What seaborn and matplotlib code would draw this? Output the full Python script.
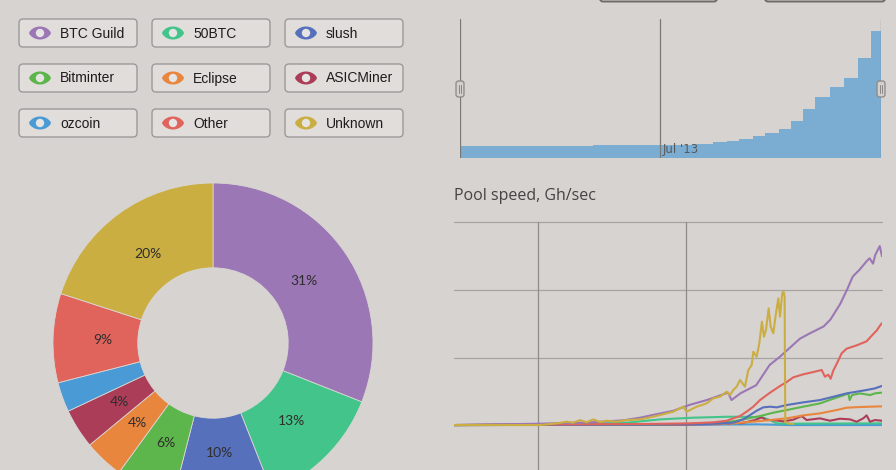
import numpy as np
import pandas as pd
import matplotlib
matplotlib.use('Agg')
import matplotlib.pyplot as plt
import seaborn as sns
from matplotlib.patches import FancyBboxPatch, Polygon, Circle

# --- данные ---
pools = ['BTC Guild', '50BTC', 'slush', 'Bitminter', 'Eclipse',
         'ASICMiner', 'ozcoin', 'Other', 'Unknown']
pool_colors = ['#9b77b5', '#42c48a', '#5670bc', '#5db64b', '#e8863e',
               '#ab3d58', '#4a9bd5', '#e0635c', '#cbae42']
pie_share = [31, 13, 10, 6, 4, 4, 3, 9, 20]

# скорость пулов (дни от начала периода, тыс. Gh/sec)
btcguild_day = [0, 77, 121, 151, 166, 180, 195, 210, 225, 237, 244, 247, 255, 269, 281,
                290, 302, 308, 317, 329, 335, 344, 350, 355, 361, 367, 370, 373, 375, 379, 381]
btcguild_speed = [0, 2, 4, 7, 11, 16, 21, 30, 37, 44, 48, 37, 47, 59, 89,
                  101, 119, 128, 136, 146, 156, 180, 201, 220, 230, 242, 247, 239, 252, 265, 250]

unknown_day = [0, 76.6, 91.4, 100.3, 106.2, 112.2, 118.1, 124.0, 130.0, 135.9, 144.8, 153.7,
               165.6, 174.5, 183.4, 195.2, 204.1, 207.1, 216.0, 224.9, 230.8, 236.8, 242.7,
               245.7, 248.6, 251.6, 254.6, 259.0, 262.0, 265.0, 266.4, 269.4, 271.8, 274.1,
               275.9, 277.7, 280.1, 281.9, 284.2, 286.6, 288.7, 290.2, 292.2, 293.4, 294.3,
               294.9, 297.6, 302.0]
unknown_speed = [0, 0, 2.5, 4.9, 3.5, 7.4, 4.0, 8.4, 4.4, 6.4, 4.9, 7.4,
                 8.4, 11.4, 14.8, 19.8, 27.2, 19.8, 27.2, 32.1, 39.5, 42.0, 49.4,
                 44.4, 51.9, 56.8, 66.7, 56.8, 81.5, 88.9, 108.6, 101.2, 121.0, 153.1,
                 130.9, 140.7, 172.8, 145.7, 135.8, 165.4, 187.7, 160.5, 195.1, 197.5, 190.1,
                 4.9, 2.5, 1.5]

other_day = [0, 106.2, 165.6, 210.1, 230.8, 242.7, 248.6, 254.6, 260.5, 266.4, 272.4, 281.3,
             290.2, 296.1, 302.0, 310.9, 319.8, 327.3, 330.2, 333.2, 335.3, 337.6, 340.6,
             345.1, 349.5, 358.4, 367.3, 373.2, 376.2, 378.6, 380.7]
other_speed = [0, 1.0, 1.5, 2.5, 4.0, 6.4, 9.9, 13.3, 19.8, 27.2, 37.0, 47.9,
               57.8, 63.7, 70.6, 75.1, 78.5, 81.5, 71.6, 74.6, 68.6, 80.5, 90.4,
               106.2, 113.1, 118.0, 124.0, 134.8, 139.8, 145.7, 150.6]

slush_day = [0, 165.6, 224.9, 248.6, 257.5, 263.5, 269.4, 275.3, 281.3, 287.2, 296.1,
             310.9, 325.8, 337.6, 349.5, 358.4, 367.3, 374.7, 380.7]
slush_speed = [0, 0.5, 1.5, 3.5, 8.4, 14.8, 21.2, 26.2, 27.2, 26.2, 29.6,
               33.6, 37.0, 41.9, 46.9, 49.4, 51.9, 54.3, 57.8]

bitminter_day = [0, 165.6, 224.9, 248.6, 260.5, 272.4, 284.2, 296.1, 310.9, 325.8, 337.6,
                 346.5, 351.0, 352.2, 354.3, 361.4, 370.3, 374.7, 380.7]
bitminter_speed = [0, 0.5, 2.0, 5.4, 9.4, 13.3, 18.3, 22.2, 27.2, 32.1, 39.0,
                   43.9, 46.9, 37.0, 44.4, 46.9, 44.4, 46.9, 48.0]

btc50_day = [0, 106.2, 153.7, 171.5, 183.4, 195.2, 213.0, 224.9, 242.7, 254.6, 266.4,
             275.3, 281.3, 287.2, 293.1, 380.7]
btc50_speed = [0, 1.0, 3.5, 6.4, 8.4, 9.4, 10.9, 11.4, 12.3, 12.3, 11.9,
               10.9, 7.4, 2.5, 2.0, 2.5]

eclipse_day = [0, 195.2, 248.6, 272.4, 296.1, 310.9, 325.8, 340.6, 349.5, 361.4, 380.7]
eclipse_speed = [0, 1.0, 2.5, 5.9, 9.9, 14.3, 17.3, 22.2, 25.7, 26.7, 27.7]

asic_day = [0, 195.2, 236.8, 241.2, 244.2, 248.6, 254.6, 260.5, 267.9, 273.8, 278.3, 284.2,
            293.1, 302.0, 309.5, 313.9, 325.8, 334.7, 343.6, 352.5, 358.4, 364.3, 367.3,
            370.3, 374.7, 380.7]
asic_speed = [0, 0.5, 1.5, 4.4, 1.5, 5.4, 2.5, 4.4, 7.4, 11.4, 7.4, 7.4,
              5.4, 7.9, 13.3, 7.4, 9.9, 6.4, 9.4, 8.4, 4.9, 9.9, 14.3,
              4.9, 7.4, 6.4]

ozcoin_day = [0, 200, 270, 300, 380.7]
ozcoin_speed = [0, 0.5, 1.0, 0, 0]

# навигатор (общая скорость сети, ступенчато)
nav_day = [0, 30, 60, 90, 120, 150, 181.1, 211.3, 229.4, 241.5, 252.7, 264.8, 276.2,
           288.9, 299.8, 310.0, 321.5, 334.5, 347.8, 360.2, 372.2, 381]
nav_value = [35, 35, 36, 37, 38, 39, 40, 43, 47, 52, 58, 66, 76,
             88, 111, 148, 183, 213, 242, 302, 383, 383]
nav_tick_day = 181.1
nav_tick_label = "Jul '13"

speed_grid = [100, 200, 300]
day_grid = [74.8, 206.5]

series = {
    'BTC Guild': (btcguild_day, btcguild_speed),
    '50BTC': (btc50_day, btc50_speed),
    'slush': (slush_day, slush_speed),
    'Bitminter': (bitminter_day, bitminter_speed),
    'Eclipse': (eclipse_day, eclipse_speed),
    'ASICMiner': (asic_day, asic_speed),
    'ozcoin': (ozcoin_day, ozcoin_speed),
    'Other': (other_day, other_speed),
    'Unknown': (unknown_day, unknown_speed),
}
df = pd.concat([pd.DataFrame({'day': d, 'speed': v, 'pool': name})
                for name, (d, v) in series.items()], ignore_index=True)
palette = dict(zip(pools, pool_colors))
draw_order = ['ozcoin', '50BTC', 'ASICMiner', 'Eclipse', 'Bitminter',
              'slush', 'Other', 'BTC Guild', 'Unknown']

# --- оформление ---
BG = '#d7d3d0'
W, H = 896, 470
sns.set_theme(style='white', rc={'figure.facecolor': BG, 'axes.facecolor': 'none',
                                 'savefig.facecolor': BG})
plt.rcParams['font.family'] = ['Open Sans', 'DejaVu Sans']


def px_box(x0, y0, w, h):
    return [x0 / W, 1 - (y0 + h) / H, w / W, h / H]


fig = plt.figure(figsize=(W / 100, H / 100), dpi=100)

# основной график
ax = fig.add_axes(px_box(454, 222, 428, 278))
sns.lineplot(data=df, x='day', y='speed', hue='pool', hue_order=draw_order,
             palette=palette, estimator=None, linewidth=1.5, legend=False, ax=ax)
ax.set_xlim(0, 381)
ax.set_ylim(-111, 300.7)
for v in speed_grid:
    ax.axhline(v, color='#a6a3a0', lw=0.9, zorder=0, clip_on=False)
for d in day_grid:
    ax.axvline(d, color='#8e8b88', lw=0.9, zorder=0)
ax.set_xticks([])
ax.set_yticks([])
ax.set_xlabel('')
ax.set_ylabel('')
sns.despine(ax=ax, left=True, bottom=True, top=True, right=True)

# навигатор
ax2 = fig.add_axes(px_box(460, 19, 421, 139))
ax2.fill_between(nav_day, nav_value, step='post', color='#7badd3', lw=0)
ax2.set_xlim(0, 381)
ax2.set_ylim(0, 418)
for d in [0, nav_tick_day, 381]:
    ax2.axvline(d, color='#7a7876', lw=0.9)
ax2.text(nav_tick_day + 2.5, 6, nav_tick_label, fontsize=8.5, color='#5a5856',
         ha='left', va='bottom', family=['DejaVu Sans'])
ax2.set_xticks([])
ax2.set_yticks([])
sns.despine(ax=ax2, left=True, bottom=True, top=True, right=True)

# кольцевая диаграмма
ax3 = fig.add_axes(px_box(53, 183, 320, 320))
ax3.pie(pie_share, colors=pool_colors, startangle=90, counterclock=False, radius=1,
        wedgeprops=dict(width=0.53, edgecolor='#dad6d3', linewidth=0.6),
        autopct=lambda p: f'{p:.0f}%' if p >= 3.5 else '', pctdistance=0.69,
        textprops=dict(fontsize=10, color='#2f2d2c', family=['Lato', 'DejaVu Sans']))
ax3.set_xlim(-1, 1)
ax3.set_ylim(-1, 1)
ax3.set_aspect('equal')
ax3.axis('off')

# кнопки-легенда и элементы интерфейса
ov = fig.add_axes([0, 0, 1, 1], zorder=10)
ov.set_xlim(0, W)
ov.set_ylim(H, 0)
ov.axis('off')

t = np.linspace(-1, 1, 41)
for i, (name, col) in enumerate(zip(pools, pool_colors)):
    r, c = divmod(i, 3)
    x0, y0 = 19 + c * 133, 19 + r * 45
    ov.add_patch(FancyBboxPatch((x0, y0), 118, 28, boxstyle='round,pad=0,rounding_size=4',
                                fc='#e0dddb', ec='#9c9a98', lw=1))
    cx, cy = x0 + 21, y0 + 14
    bulge = 6.5 * (1 - t ** 2) ** 0.7
    pts = np.concatenate([np.column_stack([cx + 11 * t, cy - bulge]),
                          np.column_stack([cx + 11 * t[::-1], cy + bulge[::-1]])])
    ov.add_patch(Polygon(pts, closed=True, fc=col, ec='none'))
    ov.add_patch(Circle((cx, cy), 4.2, fc='#e6e3e3', ec='none'))
    ov.text(x0 + 41, cy + 0.5, name, fontsize=10, color='#1e1d1c', va='center', ha='left',
            family=['Liberation Sans', 'DejaVu Sans'])

# ручки навигатора
for hx in [460, 881]:
    ov.add_patch(FancyBboxPatch((hx - 4, 81), 8, 16, boxstyle='round,pad=0,rounding_size=2.5',
                                fc='#d2cfcc', ec='#8a8886', lw=0.9))
    for dx in (-1.2, 1.2):
        ov.plot([hx + dx, hx + dx], [85, 93], color='#8a8886', lw=0.7)

# верхние кнопки (обрезаны)
for bx, bw in [(600, 117), (765, 120)]:
    ov.add_patch(FancyBboxPatch((bx, -30), bw, 31.5, boxstyle='round,pad=0,rounding_size=3',
                                fc='#dcd9d6', ec='#6d6b69', lw=1.4))

ov.text(454, 196, 'Pool speed, Gh/sec', fontsize=11.5, color='#454341', va='center', ha='left')

fig.savefig('out.png', dpi=100, facecolor=BG)
